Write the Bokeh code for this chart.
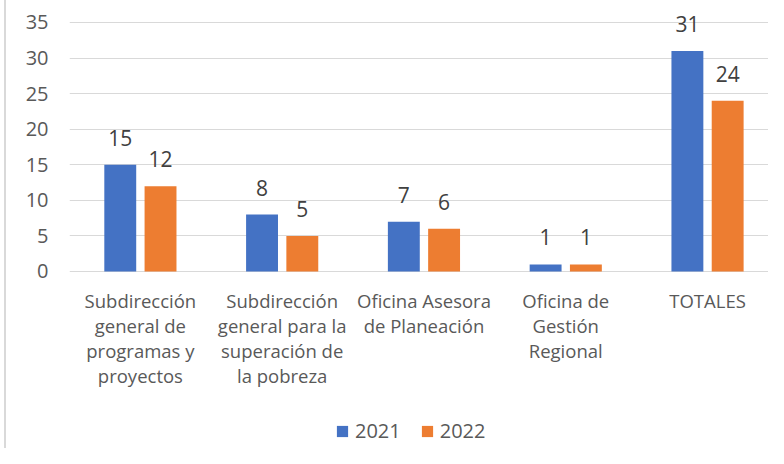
from bokeh.plotting import figure
from bokeh.models import ColumnDataSource, Legend, LegendItem, FixedTicker, Range1d
from bokeh.core.properties import value
from bokeh.embed import file_html
from bokeh.resources import INLINE

categories = [
    "Subdirección\ngeneral de\nprogramas y\nproyectos",
    "Subdirección\ngeneral para la\nsuperación de\nla pobreza",
    "Oficina Asesora\nde Planeación",
    "Oficina de\nGestión\nRegional",
    "TOTALES",
]
y2021 = [15, 8, 7, 1, 31]
y2022 = [12, 5, 6, 1, 24]
series = ["2021", "2022"]
colors = ["#4472C4", "#ED7D31"]
y_ticks = [0, 5, 10, 15, 20, 25, 30, 35]

FONT = "Open Sans"
off = 0.142
bw = 0.225
centers = [i + 0.5 for i in range(len(categories))]

src = ColumnDataSource(dict(
    x=centers, cat=categories, zero=[0] * len(categories),
    xa=[c - off for c in centers], xb=[c + off for c in centers],
    a=y2021, b=y2022,
    la=[str(v) for v in y2021], lb=[str(v) for v in y2022],
))

# the frame covers the whole chart area (7.114 px per unit, value 0 at y=271px)
p = figure(
    x_range=Range1d(0, 4.93),
    y_range=Range1d(-24.88, 37.53),
    frame_width=699, frame_height=444,
    min_border_left=63, min_border_right=0, min_border_top=4, min_border_bottom=0,
    output_backend="svg", toolbar_location=None,
)
p.styles = {"border-left": "2px solid #d9d9d9", "margin-left": "4px"}
p.outline_line_color = None
p.background_fill_color = "white"
p.border_fill_color = "white"

r1 = p.vbar(x="xa", top="a", width=bw, source=src, fill_color=colors[0], line_color=None)
r2 = p.vbar(x="xb", top="b", width=bw, source=src, fill_color=colors[1], line_color=None)

for xc, yc, tc in (("xa", "a", "la"), ("xb", "b", "lb")):
    p.text(x=xc, y=yc, text=tc, source=src,
           text_align="center", text_baseline="alphabetic", y_offset=-27,
           text_font=value(FONT), text_font_size="21px", text_color="#404040")

# category labels under the baseline
p.text(x="x", y="zero", text="cat", source=src,
       text_align="center", text_baseline="top", y_offset=17,
       text_line_height=1.0,
       text_font=value(FONT), text_font_size="18.5px", text_color="#595959")

# grid (only 0..35)
p.xgrid.grid_line_color = None
p.ygrid.grid_line_color = "#d9d9d9"
p.ygrid.grid_line_width = 1
p.yaxis.ticker = FixedTicker(ticks=y_ticks)

# y axis
p.yaxis.axis_line_color = None
p.yaxis.major_tick_line_color = None
p.yaxis.minor_tick_line_color = None
p.yaxis.major_tick_out = 0
p.yaxis.major_label_standoff = 21
p.yaxis.major_label_text_font = FONT
p.yaxis.major_label_text_font_size = "20px"
p.yaxis.major_label_text_color = "#595959"

p.xaxis.visible = False

legend = Legend(
    items=[LegendItem(label=series[0], renderers=[r1]), LegendItem(label=series[1], renderers=[r2])],
    orientation="horizontal",
    location=(266, 4),
    padding=0, spacing=19, margin=0,
    glyph_width=14, glyph_height=14, label_standoff=6,
    label_text_font=FONT, label_text_font_size="20px", label_text_color="#595959",
    border_line_color=None, background_fill_alpha=0,
)
p.add_layout(legend, "center")

open("out.html", "w").write(file_html(p, INLINE))
